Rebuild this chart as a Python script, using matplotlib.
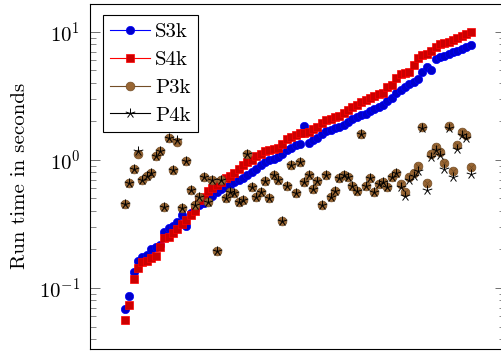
import numpy as np
import matplotlib
matplotlib.use("Agg")
import matplotlib.pyplot as plt
from matplotlib.path import Path
from matplotlib.lines import Line2D

plt.rcParams["font.family"] = "cmr10"
plt.rcParams["mathtext.fontset"] = "cm"
plt.rcParams["axes.formatter.use_mathtext"] = True

# run times per instance (seconds), instances ordered by S4k
s3k = [0.069, 0.087, 0.133, 0.163, 0.175, 0.181, 0.202, 0.21, 0.217, 0.273,
       0.294, 0.305, 0.328, 0.372, 0.305, 0.385, 0.415, 0.445, 0.46, 0.496,
       0.52, 0.56, 0.59, 0.615, 0.64, 0.673, 0.70, 0.72, 0.76, 0.806,
       0.85, 0.914, 0.965, 1.0, 1.02, 1.055, 1.11, 1.2, 1.24, 1.31,
       1.33, 1.84, 1.36, 1.43, 1.49, 1.6, 1.69, 1.71, 1.78, 1.81,
       1.88, 1.98, 2.09, 2.17, 2.25, 2.29, 2.41, 2.5, 2.6, 2.69,
       2.89, 3.05, 3.34, 3.52, 3.72, 3.92, 4.06, 4.29, 4.87, 5.32,
       5.05, 6.16, 6.39, 6.51, 6.76, 6.95, 7.07, 7.38, 7.64, 7.91]
s4k = [0.056, 0.074, 0.117, 0.143, 0.16, 0.163, 0.171, 0.178, 0.21, 0.246,
       0.25, 0.27, 0.29, 0.316, 0.34, 0.372, 0.40, 0.487, 0.51, 0.57,
       0.60, 0.64, 0.67, 0.72, 0.75, 0.79, 0.85, 0.91, 0.965, 1.0,
       1.07, 1.11, 1.17, 1.19, 1.22, 1.25, 1.33, 1.45, 1.51, 1.57,
       1.61, 1.63, 1.65, 1.73, 1.81, 1.95, 2.05, 2.09, 2.15, 2.19,
       2.33, 2.46, 2.57, 2.69, 2.81, 2.94, 3.05, 3.16, 3.28, 3.34,
       3.72, 3.85, 4.37, 4.65, 4.78, 4.87, 5.53, 6.26, 6.56, 6.69,
       7.12, 7.64, 7.99, 8.14, 8.35, 8.6, 9.0, 9.34, 9.6, 9.96]
p3k = [0.453, 0.658, 0.846, 1.114, 0.698, 0.75, 0.796, 1.075, 1.182, 0.432,
       1.477, 0.835, 1.375, 0.42, 0.982, 0.583, 0.445, 0.517, 0.74, 0.468,
       0.698, 0.195, 0.698, 0.508, 0.565, 0.555, 0.47, 0.487, 1.114, 0.612,
       0.509, 0.565, 0.689, 0.502, 0.764, 0.698, 0.336, 0.626, 0.914, 0.549,
       0.97, 0.677, 0.764, 0.59, 0.689, 0.445, 0.764, 0.514, 0.573, 0.72,
       0.764, 0.737, 0.626, 0.573, 1.605, 0.623, 0.72, 0.565, 0.65, 0.673,
       0.618, 0.74, 0.787, 0.65, 0.562, 0.74, 0.787, 0.903, 1.8, 0.658,
       1.114, 1.27, 1.16, 0.942, 1.84, 0.825, 1.31, 1.66, 1.567, 0.886]
p4k = [0.453, 0.658, 0.846, 1.17, 0.698, 0.75, 0.796, 1.075, 1.182, 0.432,
       1.477, 0.835, 1.43, 0.42, 0.982, 0.583, 0.445, 0.517, 0.74, 0.468,
       0.698, 0.195, 0.698, 0.508, 0.565, 0.555, 0.47, 0.487, 1.114, 0.612,
       0.509, 0.565, 0.689, 0.502, 0.764, 0.698, 0.336, 0.626, 0.914, 0.549,
       0.97, 0.677, 0.764, 0.59, 0.689, 0.445, 0.764, 0.514, 0.573, 0.72,
       0.764, 0.737, 0.626, 0.573, 1.605, 0.623, 0.72, 0.565, 0.65, 0.673,
       0.618, 0.74, 0.787, 0.61, 0.525, 0.70, 0.75, 0.82, 1.78, 0.583,
       1.06, 1.2, 1.1, 0.85, 1.77, 0.73, 1.22, 1.57, 1.47, 0.78]
instances = np.arange(1, len(s4k) + 1)

# pgfplots-like colours
blue, blue_fill = (0, 0, 1), (0, 0, 0.8)
red, red_fill = (1, 0, 0), (0.8, 0, 0)
brown, brown_fill = (0.45, 0.3, 0.15), (0.6, 0.4, 0.2)

# five-spoke asterisk like the pgfplots "star" mark
ang = np.deg2rad(90 + 72 * np.arange(5))
verts, codes = [], []
for a in ang:
    verts += [(0, 0), (np.cos(a), np.sin(a))]
    codes += [Path.MOVETO, Path.LINETO]
star = Path(verts, codes)

fig = plt.figure(figsize=(5.02, 3.51), dpi=100)
ax = fig.add_axes([90 / 502, 2.5 / 351, 415.5 / 502, 344.5 / 351])

ms = 6.0
fs = 15
st_s3k = dict(marker="o", ms=ms, mfc=blue_fill, mec=blue, mew=0.5)
st_s4k = dict(marker="s", ms=ms - 0.3, mfc=red_fill, mec=red, mew=0.5)
st_p3k = dict(marker="o", ms=ms + 0.3, mfc=brown_fill, mec=brown, mew=0.5)
st_p4k = dict(marker=star, ms=ms + 1.2, mfc="none", mec="black", mew=0.7)

ax.plot(instances, s3k, ls="none", **st_s3k)
ax.plot(instances, s4k, ls="none", **st_s4k)
ax.plot(instances, p3k, ls="none", **st_p3k)
ax.plot(instances, p3k, ls="none", marker="x", ms=3.8, mec=brown, mew=0.5)
ax.plot(instances, p4k, ls="none", **st_p4k)

ax.set_yscale("log")
ax.set_ylim(0.0337, 16.5)
ax.set_xlim(-7, 88)
ax.set_xticks([])
ax.set_ylabel("Run time in seconds", fontsize=fs, labelpad=7)

ax.tick_params(axis="y", which="both", direction="in", left=True, right=True,
               color="0.35", labelsize=fs, pad=7)
ax.tick_params(axis="y", which="major", length=7, width=0.6)
ax.tick_params(axis="y", which="minor", length=4.5, width=0.5)
for s in ax.spines.values():
    s.set_linewidth(0.8)

handles = [Line2D([], [], color=blue, lw=0.8, **st_s3k),
           Line2D([], [], color=red, lw=0.8, **st_s4k),
           Line2D([], [], color=brown, lw=0.8, **st_p3k),
           Line2D([], [], color="black", lw=0.8, **st_p4k)]

leg = ax.legend(handles, ["S3k", "S4k", "P3k", "P4k"],
                loc="upper left", bbox_to_anchor=(13 / 415.5, 1 - 11 / 344.5),
                borderaxespad=0, fontsize=fs, fancybox=False, framealpha=1,
                edgecolor="black", handlelength=1.9, handletextpad=0.25,
                labelspacing=0.45, borderpad=0.35)
leg.get_frame().set_linewidth(0.8)

fig.savefig("out.png", dpi=100)
